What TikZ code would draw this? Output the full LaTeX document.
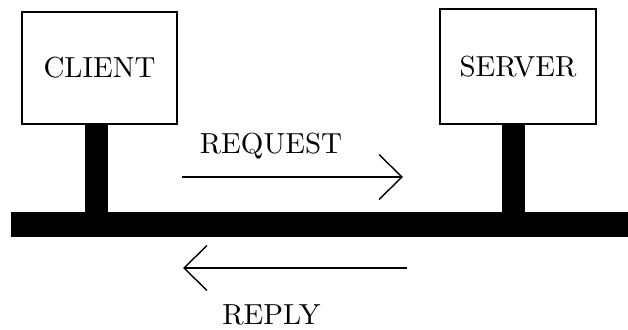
\documentclass[tikz,border=0pt]{standalone}
\usetikzlibrary{arrows.meta}
% text set at 10pt design size and enlarged, for the broad book-face look
\newcommand{\bigtext}[1]{\scalebox{2.9}{\fontsize{10}{12}\selectfont #1}}
\begin{document}
\begin{tikzpicture}[x=1pt,y=-1pt,
  hostbox/.style={draw, fill=white, line width=1.4pt, inner sep=0pt},
  solidbar/.style={fill=black, draw=none, inner sep=0pt},
  lbl/.style={inner sep=0pt, anchor=base},
  msg/.style={line width=1.4pt, -{Straight Barb[length=23pt,width=45pt,line width=1.4pt]}}
]
\useasboundingbox (0,0) rectangle (628,329);

% hosts on the network
\node[hostbox, minimum width=155pt, minimum height=112pt] (client) at (99.5,68) {\bigtext{CLIENT}};
\node[hostbox, minimum width=156pt, minimum height=115pt] (server) at (518,66.5) {\bigtext{SERVER}};

% the shared bus
\node[solidbar, minimum width=617pt, minimum height=25pt] (bus) at (319.5,224.5) {};

% stems joining each host to the bus
\node[solidbar, minimum width=23pt, minimum height=88pt] (clientstem) at (96.5,168) {};
\node[solidbar, minimum width=23pt, minimum height=88pt] (serverstem) at (513.5,168) {};

% request message
\node[lbl] (reqlabel) at (271,153) {\bigtext{REQUEST}};
\coordinate (reqstart) at (182,177);
\coordinate (reqend) at (403,177);
\draw[msg] (reqstart) -- (reqend);

% reply message
\coordinate (repstart) at (407,268);
\coordinate (repend) at (183,268);
\draw[msg] (repstart) -- (repend);
\node[lbl] (replabel) at (271.5,324) {\bigtext{REPLY}};
\end{tikzpicture}
\end{document}
